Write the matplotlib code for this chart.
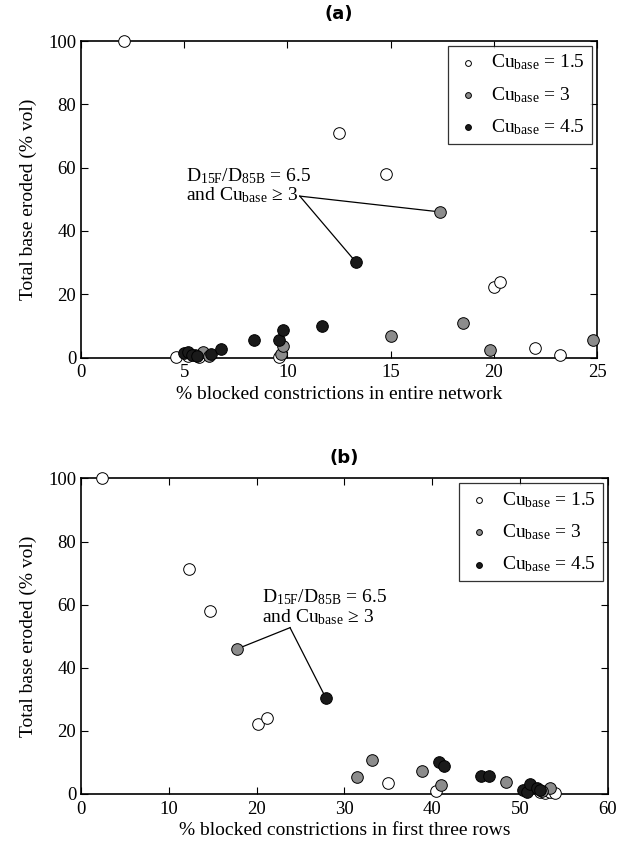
import numpy as np
import matplotlib.pyplot as plt

plt.rcParams['font.family'] = ['Liberation Serif', 'DejaVu Serif']
plt.rcParams['mathtext.fontset'] = 'custom'
plt.rcParams['mathtext.rm'] = 'Liberation Serif'
plt.rcParams['mathtext.it'] = 'Liberation Serif:italic'

# panel (a): % blocked in entire network
a_white_x = [2.1, 12.5, 14.8, 20.0, 20.3, 22.0, 23.2, 4.6, 5.2, 5.7, 9.6]
a_white_y = [100, 71, 58, 22.3, 24, 3.0, 0.8, 0.3, 0.5, 0.3, 0.3]
a_gray_x = [17.4, 5.9, 6.2, 9.7, 9.8, 15.0, 18.5, 19.8, 24.8, 5.5]
a_gray_y = [46, 1.8, 0.5, 1.0, 3.5, 6.8, 10.8, 2.5, 5.4, 0.8]
a_black_x = [13.3, 5.0, 5.2, 5.4, 5.6, 6.3, 6.8, 8.4, 9.6, 9.8, 11.7]
a_black_y = [30.3, 1.5, 1.8, 0.8, 0.5, 1.0, 2.8, 5.5, 5.5, 8.6, 10.1]

# panel (b): % blocked in first three rows
b_white_x = [2.4, 12.3, 14.7, 20.2, 21.2, 35.0, 40.4, 52.3, 52.8, 53.4, 54.0]
b_white_y = [100, 71.3, 58, 22.3, 24, 3.4, 1.0, 0.5, 0.3, 0.5, 0.3]
b_gray_x = [17.8, 31.4, 33.1, 38.8, 41.0, 48.4, 53.4, 52.5]
b_gray_y = [46, 5.5, 10.8, 7.4, 2.8, 3.8, 2.0, 1.0]
b_black_x = [27.9, 40.8, 41.3, 45.5, 46.5, 50.3, 50.8, 51.1, 51.9, 52.3]
b_black_y = [30.3, 10.0, 9.0, 5.8, 5.8, 1.2, 0.5, 3.3, 2.0, 1.2]

labels = [r'Cu$_{\rm base}$ = 1.5', r'Cu$_{\rm base}$ = 3', r'Cu$_{\rm base}$ = 4.5']
colors = ['white', '#8c8c8c', '#1a1a1a']
note = 'D$_{\\rm 15F}$/D$_{\\rm 85B}$ = 6.5\nand Cu$_{\\rm base}$ \u2265 3'

fig = plt.figure(figsize=(6.26, 8.46), dpi=100)
ax1 = fig.add_axes([0.1294, 0.5774, 0.8243, 0.3741])
ax2 = fig.add_axes([0.1294, 0.0615, 0.8418, 0.3730])


def panel(ax, xs, ys, xmax, xstep, xlabel, title, tpad, text_xy, joint, gray_pt, black_pt):
    for x, y, c, lab in zip(xs, ys, colors, labels):
        ax.scatter(x, y, s=70, c=c, edgecolors='black', linewidths=0.7,
                   label=lab, zorder=3, clip_on=False)
    ax.set_xlim(0, xmax)
    ax.set_ylim(0, 100)
    ax.set_xticks(np.arange(0, xmax + 1, xstep))
    ax.set_yticks(np.arange(0, 101, 20))
    ax.tick_params(direction='in', top=True, right=True, length=5,
                   labelsize=13.5, width=0.8)
    ax.tick_params(axis='x', pad=5)
    ax.set_xlabel(xlabel, fontsize=14, labelpad=3)
    ax.set_ylabel('Total base eroded (% vol)', fontsize=14, labelpad=8)
    ax.set_title(title, fontsize=13, fontweight='bold', family='DejaVu Sans', pad=tpad)
    for s in ax.spines.values():
        s.set_linewidth(1.2)
    ax.text(text_xy[0], text_xy[1], note, fontsize=14, va='top', ha='left',
            linespacing=1.0)
    for p in (gray_pt, black_pt):
        ax.plot([joint[0], p[0]], [joint[1], p[1]], color='black', lw=0.9, zorder=2)
    leg = ax.legend(loc='upper right', fontsize=14, frameon=True, fancybox=False,
                    edgecolor='black', borderaxespad=0.25, handletextpad=0.5,
                    markerscale=0.5, labelspacing=0.65, borderpad=0.35,
                    handlelength=1.4)
    leg.get_frame().set_linewidth(0.9)


panel(ax1, [a_white_x, a_gray_x, a_black_x], [a_white_y, a_gray_y, a_black_y],
      25, 5, '% blocked constrictions in entire network', '(a)', 16,
      (5.1, 60.5), (10.6, 51), (a_gray_x[0], a_gray_y[0]), (a_black_x[0], a_black_y[0]))
panel(ax2, [b_white_x, b_gray_x, b_black_x], [b_white_y, b_gray_y, b_black_y],
      60, 10, '% blocked constrictions in first three rows', '(b)', 11,
      (20.6, 65.5), (23.8, 52.7), (b_gray_x[0], b_gray_y[0]), (b_black_x[0], b_black_y[0]))

fig.savefig('out.png', dpi=100)
